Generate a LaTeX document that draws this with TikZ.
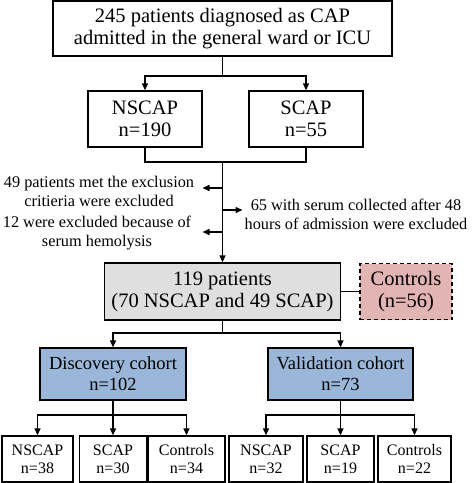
\documentclass[tikz,border=0pt]{standalone}
\usepackage{fontspec}
\setmainfont{Liberation Serif}
\usepackage{xcolor}
\usepackage{tikz}
\usetikzlibrary{arrows.meta, positioning, calc}

\definecolor{grayfill}{HTML}{DFDFDF}
\definecolor{pinkfill}{HTML}{E2B4B4}
\definecolor{bluefill}{HTML}{9AB7D9}

\begin{document}
\begin{tikzpicture}[
    x=1pt, y=-1pt,
    box/.style={draw, line width=1.4pt, align=center, inner sep=0pt, fill=white,
        font=\fontsize{20.5}{22}\selectfont},
    cohort/.style={box, fill=bluefill, minimum width=146pt, minimum height=52pt,
        font=\fontsize{18.5}{21}\selectfont},
    leaf/.style={box, minimum height=46pt, font=\fontsize{16}{18}\selectfont},
    note/.style={align=center, inner sep=0pt, font=\fontsize{16.3}{19}\selectfont},
    line/.style={line width=1.4pt},
    arrow/.style={line, -{Triangle[length=7pt, width=6pt]}}
]
    \useasboundingbox (0,0) rectangle (473,483);

    % Patients
    \node[box, minimum width=339pt, minimum height=55pt] (all) at (222.5,28.5) {245 patients diagnosed as CAP\\admitted in the general ward or ICU};
    \node[box, minimum width=114pt, minimum height=56pt] (nscap) at (145,119) {NSCAP\\n=190};
    \node[box, minimum width=114pt, minimum height=56pt] (scap) at (306,119) {SCAP\\n=55};

    \coordinate (split) at (222.5,76);
    \draw[line] (all) -- (split);
    \draw[arrow] (split) -| (nscap);
    \draw[arrow] (split) -| (scap);

    % Exclusions
    \node[box, fill=grayfill, minimum width=236pt, minimum height=57pt] (kept) at (222.5,291.5) {119 patients\\(70 NSCAP and 49 SCAP)};
    \node[box, dashed, dash pattern=on 4pt off 3pt, fill=pinkfill, minimum width=92pt, minimum height=56pt] (controls) at (406,291.5) {Controls\\(n=56)};

    \coordinate (merge) at (222.5,162);
    \draw[line] (nscap) |- (merge) -| (scap);
    \draw[arrow] (merge) -- (kept);
    \draw[line] (kept) -- (controls);

    \node[note] (excl1) at (99,191) {49 patients met the exclusion\\critieria were excluded};
    \node[note] (excl2) at (97,233) {12 were excluded because of\\serum hemolysis};
    \node[note] (excl3) at (356,214) {65 with serum collected after 48\\hours of admission were excluded};

    \coordinate (t1) at (222.5,188);
    \coordinate (t2) at (222.5,232);
    \coordinate (t3) at (222.5,210);
    \draw[arrow] (t1) -- ($(t1)+(-20,0)$) coordinate (e1);
    \draw[arrow] (t2) -- ($(t2)+(-20,0)$) coordinate (e2);
    \draw[arrow] (t3) -- ($(t3)+(20,0)$) coordinate (e3);

    % Cohorts
    \node[cohort] (disc) at (113,374) {Discovery cohort\\n=102};
    \node[cohort, minimum width=145pt] (valid) at (340.5,374) {Validation cohort\\n=73};

    \coordinate (cohorts) at (222.5,333);
    \draw[line] (kept) -- (cohorts);
    \draw[arrow] (cohorts) -| (disc);
    \draw[arrow] (cohorts) -| (valid);

    % Groups
    \node[leaf, minimum width=71pt] (dn) at (37.5,459) {NSCAP\\n=38};
    \node[leaf, minimum width=67pt] (ds) at (113,459) {SCAP\\n=30};
    \node[leaf, minimum width=77pt] (dc) at (186.5,459) {Controls\\n=34};
    \node[leaf, minimum width=74pt] (vn) at (266,459) {NSCAP\\n=32};
    \node[leaf, minimum width=67pt] (vs) at (340.5,459) {SCAP\\n=19};
    \node[leaf, minimum width=73pt] (vc) at (414.5,459) {Controls\\n=22};

    \coordinate (dsplit) at (113,415);
    \coordinate (vsplit) at (340.5,415);
    \draw[line] (disc) -- (dsplit);
    \draw[line] (valid) -- (vsplit);
    \foreach \g in {dn,ds,dc}
        \draw[arrow] (dsplit) -| (\g);
    \foreach \g in {vn,vs,vc}
        \draw[arrow] (vsplit) -| (\g);
\end{tikzpicture}
\end{document}
